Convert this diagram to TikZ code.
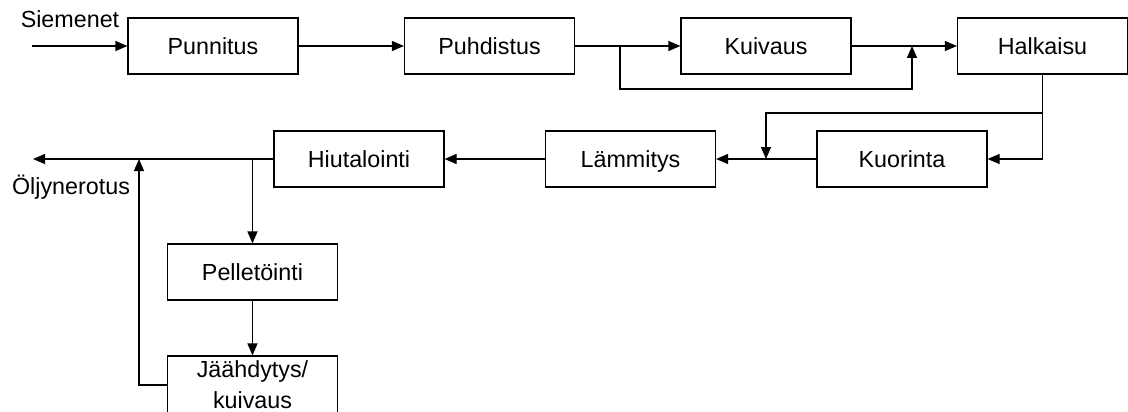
\documentclass[tikz,border=0pt]{standalone}
\usepackage{fontspec}
\setmainfont{Liberation Sans}
\usepackage{tikz}
\usetikzlibrary{arrows.meta}
\tikzset{node distance=276.5pt, auto,
  stage/.style={draw, line width=1.2pt, minimum width=170pt, minimum height=56pt,
    inner sep=2pt, text height=16.7pt, text depth=0pt},
  stage2/.style={draw, line width=1.2pt, minimum width=170pt, minimum height=58pt,
    inner sep=2pt, align=center},
  flow/.style={line width=1.2pt, -{Triangle[length=12pt,width=10pt]}},
  plain/.style={line width=1.2pt}}

\begin{document}
\begin{tikzpicture}[x=1pt, y=1pt, font=\fontsize{23.3}{28}\selectfont]
                \useasboundingbox (0,0) rectangle (1128,-412);
                \node (A) [stage] at (213,-46) {Punnitus};
                \node (B) [stage, right of=A]  {Puhdistus};
                \node (C) [stage, right of=B]  {Kuivaus};
                \node (D) [stage, right of=C]  {Halkaisu};
                \node (G) [stage] at (359,-159) {Hiutalointi};
                \node (F) [stage, right of=G, node distance=271.5pt] {Lämmitys};
                \node (E) [stage, right of=F, node distance=271.5pt] {Kuorinta};
                \node (H) [stage] at (252.5,-272) {Pelletöinti};
                \node (I) [stage2] at (252.5,-385) {Jäähdytys/\\[3pt]kuivaus};
                \node (S) [anchor=base] at (70,-28)  {Siemenet};
                \node (O) [anchor=base] at (71,-194) {Öljynerotus};
                \coordinate (in)   at (32,-46);
                \coordinate (out)  at (33,-159);
                \coordinate (sp1)  at (620,-46);
                \coordinate (mg1)  at (912,-46);
                \coordinate (sp2)  at (D.south |- 0,-113);
                \coordinate (mg2)  at (766,-159);
                \coordinate (sp3)  at (H.north |- G.west);
                \coordinate (mg3)  at (139,-159);
                \draw[flow] (in) -- (A);
                \draw[flow] (A) -- (B);
                \draw[flow] (B) -- (C);
                \draw[flow] (C) -- (D);
                \draw[flow] (sp1) -- (620,-89) -| (mg1);
                \draw[flow] (D.south) |- (E.east);
                \draw[flow] (sp2) -| (mg2);
                \draw[flow] (E) -- (F);
                \draw[flow] (F) -- (G);
                \draw[flow] (G) -- (out);
                \draw[flow] (sp3) -- (H);
                \draw[flow] (H) -- (I);
                \draw[flow] (I.west) -| (mg3);
              \end{tikzpicture}
\end{document}
